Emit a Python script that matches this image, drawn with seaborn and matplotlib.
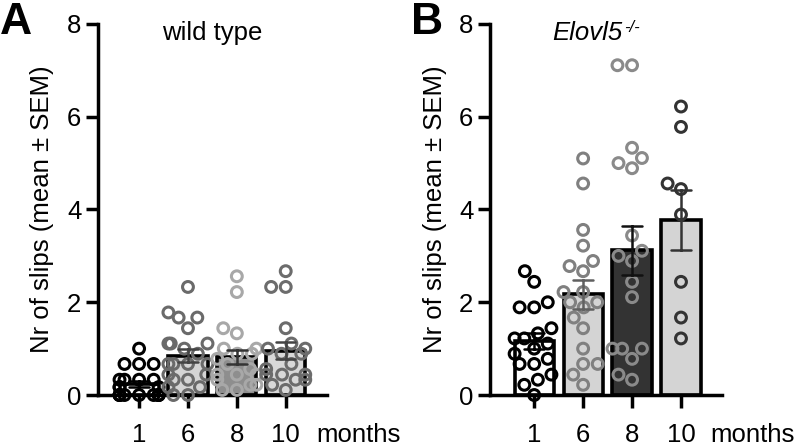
import warnings
import matplotlib
matplotlib.use('Agg')
import matplotlib.pyplot as plt
import seaborn as sns
import pandas as pd

warnings.filterwarnings('ignore')

months = ['1', '6', '8', '10']

# wild type, slips per animal
wt_1 = [1.0, 0.67, 0.67, 0.67, 0.33, 0.33, 0.33, 0.33, 0.17, 0.17, 0.17,
        0, 0, 0, 0, 0, 0, 0, 0, 0]
wt_6 = [2.33, 1.78, 1.67, 1.67, 1.44, 1.11, 1.11, 1.11, 1.0, 0.89, 0.67,
        0.67, 0.67, 0.67, 0.44, 0.44, 0.33, 0.33, 0.17, 0.17, 0, 0]
wt_8 = [2.56, 2.22, 1.44, 1.33, 1.0, 1.0, 0.89, 0.89, 0.78, 0.67, 0.56,
        0.44, 0.44, 0.44, 0.33, 0.22, 0.22, 0.11, 0.11]
wt_10 = [2.67, 2.33, 2.33, 1.44, 1.11, 1.0, 1.0, 0.89, 0.89, 0.67, 0.56,
         0.44, 0.44, 0.44, 0.33, 0.33, 0.22, 0.11]

# Elovl5-/-
ko_1 = [2.67, 2.44, 2.0, 1.89, 1.89, 1.44, 1.33, 1.22, 1.22, 1.11, 1.0,
        0.89, 0.78, 0.67, 0.67, 0.44, 0.33, 0.22, 0]
ko_6 = [5.1, 4.56, 3.56, 3.22, 2.89, 2.78, 2.67, 2.22, 2.22, 2.0, 2.0,
        1.89, 1.67, 1.44, 1.0, 0.67, 0.67, 0.44, 0.22]
ko_8 = [7.11, 7.11, 5.33, 5.11, 5.0, 4.89, 3.44, 3.11, 3.0, 2.89, 2.44,
        2.11, 1.0, 1.0, 1.0, 0.78, 0.44, 0.33]
ko_10 = [6.22, 5.78, 4.56, 4.44, 3.89, 2.44, 1.67, 1.22]

wt_fill = ['#ffffff', '#d4d4d4', '#8e8e8e', '#d8d8d8']
wt_dots = ['#000000', '#6a6a6a', '#a8a8a8', '#6c6c6c']
wt_err = ['#000000', '#444444', '#333333', '#444444']
ko_fill = ['#ffffff', '#d4d4d4', '#333333', '#d4d4d4']
ko_dots = ['#000000', '#808080', '#8a8a8a', '#333333']
ko_err = ['#000000', '#606060', '#111111', '#333333']

FS = 18.5


def make_df(groups):
    rows = []
    for m, vals in zip(months, groups):
        for v in vals:
            rows.append({'month': m, 'slips': v})
    return pd.DataFrame(rows)


sns.set_style('ticks')
plt.rcParams['font.family'] = ['Liberation Sans', 'DejaVu Sans']
for k in ['text.color', 'axes.labelcolor', 'xtick.color', 'ytick.color']:
    plt.rcParams[k] = 'black'

fig = plt.figure(figsize=(7.97, 4.46), dpi=100)
ax_a = fig.add_axes([0.123, 0.1143, 0.287, 0.832])
ax_b = fig.add_axes([0.615, 0.1143, 0.291, 0.832])


def draw_panel(ax, df, fills, dots, errs, xleft, swarm_size):
    sns.barplot(data=df, x='month', y='slips', hue='month', order=months,
                hue_order=months, palette=fills, legend=False, width=0.8,
                edgecolor='black', linewidth=2.6, errorbar='se',
                capsize=0.4, err_kws={'linewidth': 1.8}, saturation=1,
                ax=ax)
    for line, c in zip(ax.lines, errs):
        line.set_color(c)
        line.set_zorder(4)
    # swarm laid out with small markers, then drawn larger so they overlap
    sns.swarmplot(data=df, x='month', y='slips', hue='month', order=months,
                  hue_order=months, palette=dots, legend=False,
                  size=swarm_size, ax=ax)
    for coll, c in zip(ax.collections, dots):
        coll.set_facecolor('none')
        coll.set_edgecolor(c)
        coll.set_linewidth(2.2)
        coll.set_sizes([7.8 ** 2])
        coll.set_clip_on(False)
        coll.set_zorder(3)
    ax.set_xlim(xleft, 3.84)
    ax.set_ylim(0, 8)
    ax.set_yticks([0, 2, 4, 6, 8])
    ax.set_xlabel('')
    ax.set_ylabel('Nr of slips (mean ± SEM)', fontsize=FS, labelpad=9)
    sns.despine(ax=ax)
    for s in ['left', 'bottom']:
        ax.spines[s].set_linewidth(2.5)
        ax.spines[s].set_color('black')
    ax.tick_params(axis='both', which='major', labelsize=FS, length=9,
                   width=2.5, color='black', direction='out')
    ax.tick_params(axis='x', pad=11)
    ax.tick_params(axis='y', pad=3)


draw_panel(ax_a, make_df([wt_1, wt_6, wt_8, wt_10]), wt_fill, wt_dots,
           wt_err, -0.84, 3.6)
draw_panel(ax_b, make_df([ko_1, ko_6, ko_8, ko_10]), ko_fill, ko_dots,
           ko_err, -0.9, 5.5)

ax_a.text(0.5, 0.975, 'wild type', transform=ax_a.transAxes, fontsize=FS,
          ha='center', va='center')
t = ax_b.text(0.42, 0.975, 'Elovl5', transform=ax_b.transAxes, fontsize=FS,
              style='italic', ha='center', va='center')
ax_b.annotate('-/-', xy=(1, 1), xycoords=t, xytext=(1, 1),
              textcoords='offset points', fontsize=12, style='italic',
              ha='left', va='top')

for ax, xm in [(ax_a, 3.62), (ax_b, 3.6)]:
    ax.annotate('months', xy=(xm, 0), xycoords=('data', 'axes fraction'),
                xytext=(0, -20), textcoords='offset points', fontsize=FS,
                ha='left', va='top', annotation_clip=False)

fig.text(0.0, 0.995, 'A', fontsize=32, fontweight='bold', va='top', ha='left')
fig.text(0.516, 0.995, 'B', fontsize=32, fontweight='bold', va='top', ha='left')

plt.savefig('out.png', dpi=100)
plt.close()
